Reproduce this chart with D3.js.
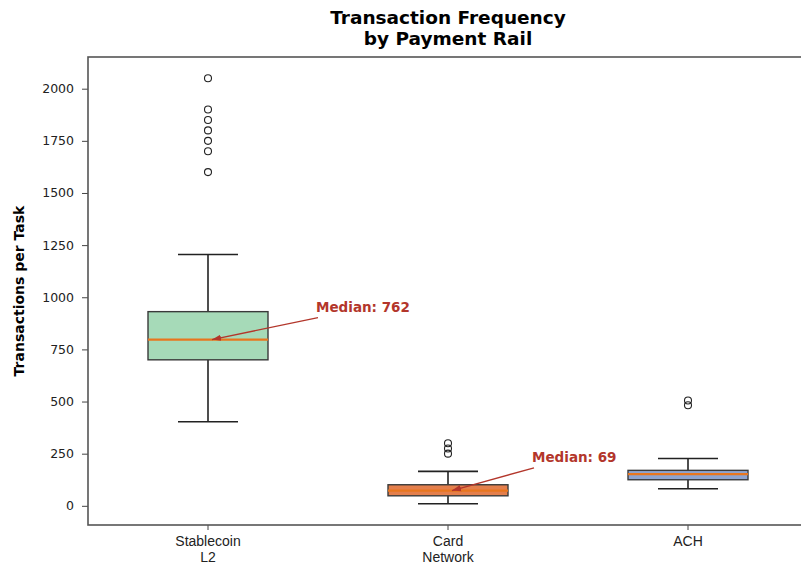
<!DOCTYPE html>
<html>
<head>
<meta charset="utf-8">
<script src="https://cdn.jsdelivr.net/npm/d3@7"></script>
<style>
  body { margin: 0; background: #fff; }
  svg { font-family: "DejaVu Sans", sans-serif; }
</style>
</head>
<body>
<svg class="chart" width="801" height="566"></svg>
<script>
// Data
const rails = ["Stablecoin\nL2", "Card\nNetwork", "ACH"];
const q1 = [700, 48, 125];
const medians = [797, 73, 152];
const q3 = [931, 101, 170];
const whiskerLow = [403, 10, 82];
const whiskerHigh = [1205, 165, 227];
const outliers = [
  [2050, 1900, 1850, 1800, 1750, 1700, 1600],
  [300, 275, 250],
  [505, 482]
];
const fills = ["#a6dab8", "#e47f4c", "#8ea3cf"];
const yTicks = [0, 250, 500, 750, 1000, 1250, 1500, 1750, 2000];

// annotations: which rail, label, text anchor position in data units
const noteRail = [0, 1];
const noteText = ["Median: 762", "Median: 69"];
const noteAt = [{dx: 0.45, y: 955}, {dx: 0.35, y: 235}];

const size = {w: 801, h: 566};
const margin = {left: 88, right: -7, top: 57, bottom: 41};

let svg = d3.select("svg.chart");

let x = d3.scaleBand()
  .domain(rails)
  .range([margin.left, size.w - margin.right])
  .padding(0);

let y = d3.scaleLinear()
  .domain([-92, 2152])
  .range([size.h - margin.bottom, margin.top]);

const bw = x.bandwidth();
const cx = d => x(d) + bw / 2;

// title
svg.append("text")
  .attr("x", cx(rails[1]))
  .attr("y", 24)
  .attr("text-anchor", "middle")
  .attr("font-size", 18.5)
  .attr("font-weight", "bold")
  .selectAll("tspan")
  .data(["Transaction Frequency", "by Payment Rail"])
  .enter().append("tspan")
    .attr("x", cx(rails[1]))
    .attr("dy", (d, i) => i ? 21 : 0)
    .text(d => d);

// y axis
let yAxis = svg.append("g")
  .attr("transform", `translate(${margin.left},0)`)
  .call(d3.axisLeft(y).tickValues(yTicks).tickSize(6).tickPadding(8).tickFormat(d3.format("d")));
yAxis.select(".domain").remove();
yAxis.selectAll("text").attr("font-size", 12.5).attr("font-family", "DejaVu Sans").attr("fill", "#222");
yAxis.selectAll("line").attr("stroke", "#444");

// x axis
let xAxis = svg.append("g")
  .attr("transform", `translate(0,${size.h - margin.bottom})`)
  .call(d3.axisBottom(x).tickSize(5).tickPadding(4).tickFormat(""));
xAxis.select(".domain").remove();
xAxis.selectAll("line").attr("stroke", "#444");
xAxis.selectAll(".tick").append("text")
  .attr("fill", "#222")
  .attr("font-size", 14)
  .attr("text-anchor", "middle")
  .selectAll("tspan")
  .data(d => d.split("\n"))
  .enter().append("tspan")
    .attr("x", 0)
    .attr("y", (d, i) => 21 + i * 16)
    .text(d => d);

// y label
svg.append("text")
  .attr("transform", `translate(24,${(margin.top + size.h - margin.bottom) / 2}) rotate(-90)`)
  .attr("text-anchor", "middle")
  .attr("font-size", 14)
  .attr("font-weight", "bold")
  .text("Transactions per Task");

// boxes
let g = svg.append("g");
rails.forEach((r, i) => {
  const c = cx(r);
  const half = bw * 0.25;
  const cap = bw * 0.125;
  const grp = g.append("g");
  // whiskers
  grp.append("line").attr("x1", c).attr("x2", c)
    .attr("y1", y(q3[i])).attr("y2", y(whiskerHigh[i]))
    .attr("stroke", "#222").attr("stroke-width", 1.6);
  grp.append("line").attr("x1", c).attr("x2", c)
    .attr("y1", y(q1[i])).attr("y2", y(whiskerLow[i]))
    .attr("stroke", "#222").attr("stroke-width", 1.6);
  [whiskerHigh[i], whiskerLow[i]].forEach(v => {
    grp.append("line").attr("x1", c - cap).attr("x2", c + cap)
      .attr("y1", y(v)).attr("y2", y(v))
      .attr("stroke", "#222").attr("stroke-width", 1.6);
  });
  // box
  grp.append("rect")
    .attr("x", c - half).attr("width", half * 2)
    .attr("y", y(q3[i])).attr("height", y(q1[i]) - y(q3[i]))
    .attr("fill", fills[i])
    .attr("stroke", "#3a3a3a").attr("stroke-width", 1.4);
  // median
  grp.append("line").attr("x1", c - half).attr("x2", c + half)
    .attr("y1", y(medians[i])).attr("y2", y(medians[i]))
    .attr("stroke", "#e8761e").attr("stroke-width", 2.2);
  // outliers
  grp.selectAll("circle")
    .data(outliers[i])
    .enter().append("circle")
      .attr("cx", c).attr("cy", d => y(d)).attr("r", 3.5)
      .attr("fill", "none").attr("stroke", "#222").attr("stroke-width", 1.1);
});

// frame
svg.append("rect")
  .attr("x", margin.left).attr("y", margin.top)
  .attr("width", size.w - margin.right - margin.left)
  .attr("height", size.h - margin.bottom - margin.top)
  .attr("fill", "none").attr("stroke", "#555").attr("stroke-width", 1.6);

// annotations
const red = "#b3362b";
svg.append("defs").append("marker")
  .attr("id", "head")
  .attr("viewBox", "0 0 10 10")
  .attr("refX", 10).attr("refY", 5)
  .attr("markerWidth", 7).attr("markerHeight", 7)
  .attr("orient", "auto")
  .append("path").attr("d", "M0,1.5 L10,5 L0,8.5 Z").attr("fill", red);

noteRail.forEach((ri, k) => {
  const c = cx(rails[ri]);
  const tx = c + noteAt[k].dx * bw;
  const ty = y(noteAt[k].y);
  svg.append("line")
    .attr("x1", tx + 2).attr("y1", ty + 11)
    .attr("x2", c + 4).attr("y2", y(medians[ri]))
    .attr("stroke", red).attr("stroke-width", 1.3)
    .attr("marker-end", "url(#head)");
  svg.append("text")
    .attr("x", tx).attr("y", ty + 5)
    .attr("fill", red)
    .attr("font-size", 13.5)
    .attr("font-weight", "bold")
    .text(noteText[k]);
});
</script>
</body>
</html>
